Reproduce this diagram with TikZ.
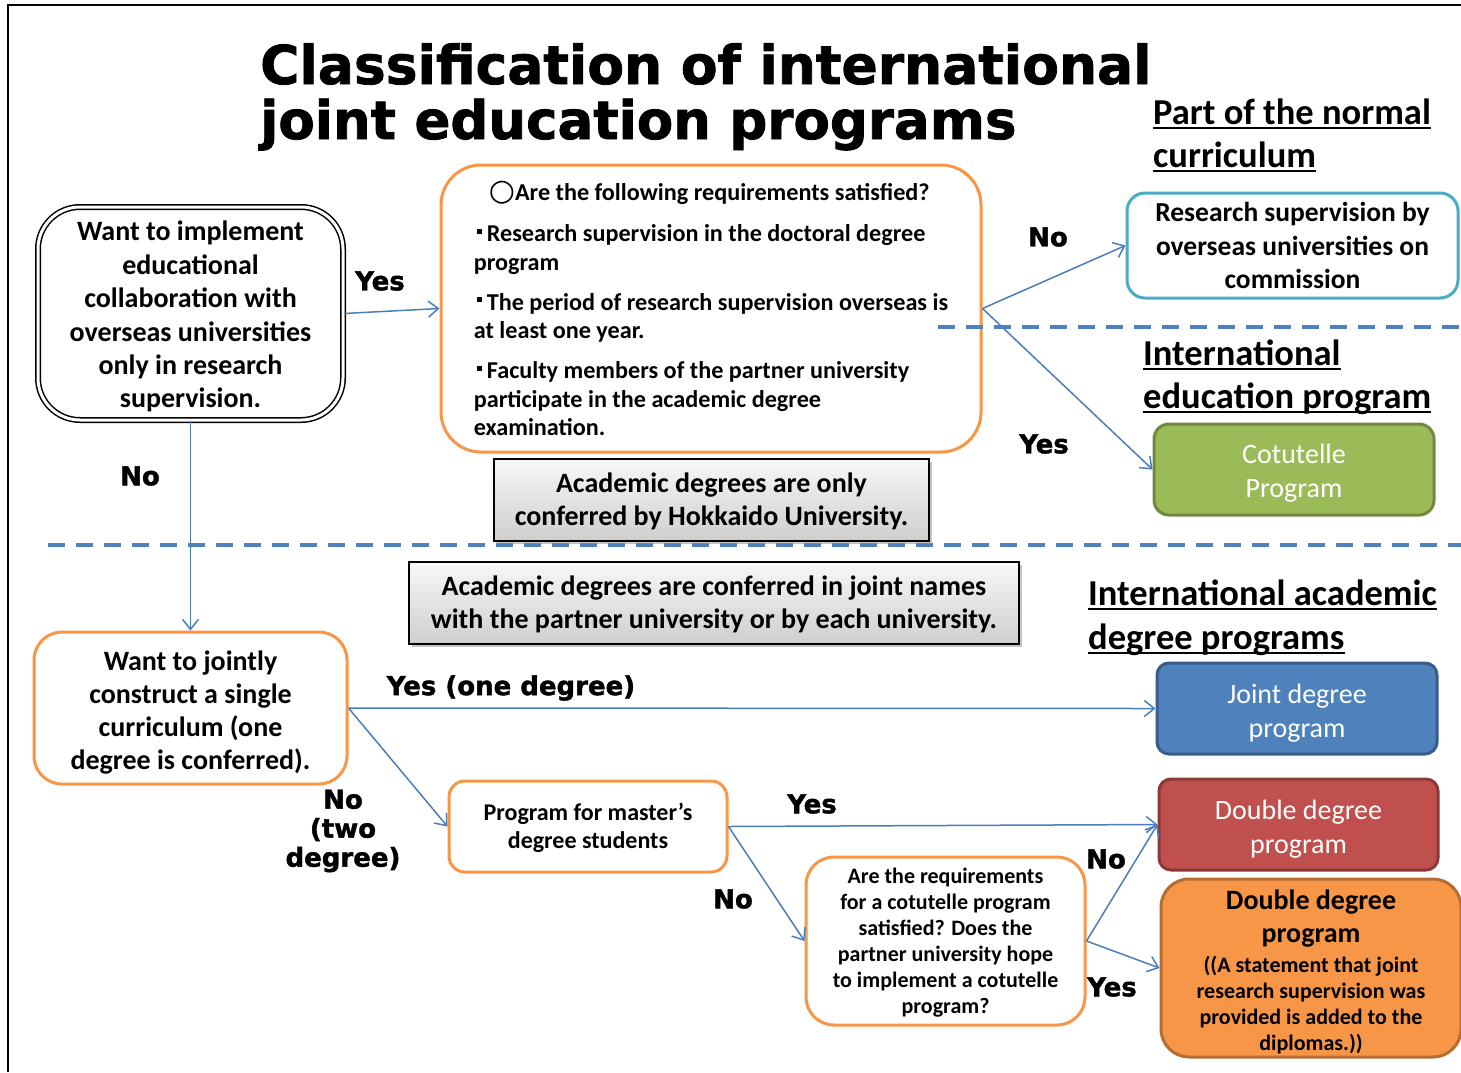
\documentclass[tikz,border=0pt]{standalone}
\usepackage{fontspec}
\setmainfont{Carlito}
\newfontfamily\heavy{DejaVu Sans}[BoldFeatures={FakeBold=1.5}]
\newfontfamily\dejavu{DejaVu Sans}
\usetikzlibrary{arrows.meta,shadows}
\definecolor{arrowblue}{HTML}{4A7EBB}
\definecolor{dashblue}{HTML}{4F81BD}
\definecolor{orangeb}{HTML}{F79646}
\definecolor{cyanb}{HTML}{4BACC6}
\definecolor{greenf}{HTML}{9BBB59}
\definecolor{greend}{HTML}{71893F}
\definecolor{bluef}{HTML}{4F81BD}
\definecolor{blued}{HTML}{385D8A}
\definecolor{redf}{HTML}{C0504D}
\definecolor{redd}{HTML}{8C3836}
\definecolor{orangef}{HTML}{F79646}
\definecolor{oranged}{HTML}{B66D31}
\newcommand{\sqbul}{\hspace*{3pt}\raisebox{8pt}{\rule{5pt}{5pt}}\hspace{5pt}}
\newcommand{\myul}[1]{\setbox0\hbox{#1}\rlap{\rule[-5pt]{\wd0}{2pt}}\box0}
\newcommand{\tall}[1]{\rule{0pt}{#1}}
\begin{document}
\begin{tikzpicture}[x=1pt,y=-1pt,
  obox/.style={draw=orangeb, line width=3pt, fill=white, align=center, inner sep=0pt},
  fbox/.style={line width=3pt, align=center, inner sep=0pt, text=white, rounded corners=12pt,
     font=\fontsize{28}{34}\selectfont},
  graybox/.style={draw=black, line width=1.2pt, top color=gray!6, bottom color=gray!38,
     drop shadow={shadow xshift=3pt, shadow yshift=-3pt, fill=black!45},
     align=center, inner sep=0pt, font=\bfseries\fontsize{28}{33}\selectfont},
  lbl/.style={font=\heavy\bfseries\fontsize{26}{29}\selectfont, align=center, inner sep=0pt},
  conn/.style={draw=arrowblue, line width=1.5pt, -{Straight Barb[length=10pt,width=16pt]}},
  divline/.style={draw=dashblue, line width=3.5pt, dash pattern=on 17pt off 11pt},
  heading/.style={font=\bfseries\fontsize{36.5}{43}\selectfont, anchor=base west, inner sep=0pt},
  titlefont/.style={font=\heavy\bfseries\fontsize{53.5}{55}\selectfont, anchor=base west, inner sep=0pt}
]
\useasboundingbox (0,0) rectangle (1461,1072);
\fill[white] (0,0) rectangle (1461,1072);
% frame
\draw[line width=2pt] (8,1072) -- (8,5) -- (1461,5);

% title
\node[titlefont] (t1) at (260,84) {Classification of international};
\node[titlefont] (t2) at (260,139) {\fontsize{53}{55}\selectfont joint education programs};

% headings
\node[heading] (h1a) at (1153,124) {\myul{Part of the normal}};
\node[heading] (h1b) at (1153,167) {\myul{curriculum}};
\node[heading] (h2a) at (1143,365) {\myul{International}};
\node[heading] (h2b) at (1143,408) {\myul{education program}};
\node[heading] (h3a) at (1088,605) {\myul{International academic}};
\node[heading] (h3b) at (1088,649) {\myul{degree programs}};

% dashed divider (lower)
\draw[divline] (48,545) -- (1461,545);

% boxes
\node[draw=black, line width=1.5pt, double, double distance=3pt, fill=white, rounded corners=42pt,
  minimum width=305pt, minimum height=213pt, align=center, inner sep=0pt,
  font=\bfseries\fontsize{28}{33.4}\selectfont] (A) at (190.5,313.5)
  {\tall{26pt}Want to implement\\educational\\collaboration with\\overseas universities\\only in research\\supervision.};

\node[obox, rounded corners=40pt, minimum width=540pt, minimum height=287pt, align=left,
  font=\bfseries\fontsize{24.2}{28.5}\selectfont] (B) at (711,308.5)
  {\hspace*{15pt}{\dejavu\fontsize{30}{28}\selectfont ○}Are the following requirements satisfied?\\[12.5pt]
   \sqbul Research supervision in the doctoral degree\\
   program\\[11.5pt]
   \sqbul The period of research supervision overseas is\\
   at least one year.\\[11.5pt]
   \sqbul Faculty members of the partner university\\
   participate in the academic degree\\
   examination.};

\draw[divline] (938,327) -- (1461,327);

\node[draw=cyanb, line width=3pt, fill=white, rounded corners=18pt, minimum width=331pt, minimum height=105pt,
  align=center, inner sep=0pt, font=\bfseries\fontsize{27.5}{33.5}\selectfont] (C) at (1292.5,245.5)
  {Research supervision by\\overseas universities on\\commission};

\node[fbox, draw=greend, fill=greenf, minimum width=280pt, minimum height=91pt, rounded corners=15pt] (D) at (1294,469.5)
  {\tall{27pt}Cotutelle\\Program};

\node[graybox, minimum width=435pt, minimum height=82pt] (G1) at (711.5,500)
  {\tall{23pt}Academic degrees are only\\conferred by Hokkaido University.};
\node[graybox, minimum width=610pt, minimum height=82pt] (G2) at (714,603)
  {\tall{23pt}Academic degrees are conferred in joint names\\with the partner university or by each university.};

\node[obox, rounded corners=28pt, minimum width=313pt, minimum height=152pt,
  font=\bfseries\fontsize{28}{33}\selectfont] (E) at (190.5,708)
  {\tall{28pt}Want to jointly\\construct a single\\curriculum (one\\degree is conferred).};

\node[fbox, draw=blued, fill=bluef, minimum width=280pt, minimum height=91pt] (F) at (1297,708.5)
  {\tall{28pt}Joint degree\\program};

\node[obox, rounded corners=16pt, minimum width=278pt, minimum height=91pt,
  font=\bfseries\fontsize{24}{28}\selectfont] (G) at (588,826.5)
  {\tall{21pt}Program for master’s\\degree students};

\node[fbox, draw=redd, fill=redf, minimum width=279pt, minimum height=91pt] (H) at (1298.5,824.5)
  {\tall{28pt}Double degree\\program};

\node[obox, rounded corners=28pt, minimum width=279pt, minimum height=168pt,
  font=\bfseries\fontsize{22}{26}\selectfont] (I) at (945.5,941)
  {\tall{19pt}Are the requirements\\for a cotutelle program\\satisfied? Does the\\partner university hope\\to implement a cotutelle\\program?};

\node[draw=oranged, fill=orangef, line width=3pt, rounded corners=28pt, minimum width=300pt, minimum height=178pt,
  align=center, inner sep=0pt, font=\bfseries\fontsize{22}{26}\selectfont] (J) at (1311,968)
  {\fontsize{28}{33}\selectfont\tall{28pt}Double degree\\[7pt]
   \fontsize{28}{33}\selectfont program\\[4pt]
   ((A statement that joint\\research supervision was\\provided is added to the\\diplomas.))};

% connectors
\draw[conn] (A.east) -- (B.west);
\draw[conn] (A.south) -- (E.north);
\draw[conn] (B.east) -- (C.west);
\draw[conn] (B.east) -- (D.west);
\draw[conn] (E.east) -- (F.west);
\draw[conn] (E.east) -- (G.west);
\draw[conn] (G.east) -- (H.west);
\draw[conn] (G.east) -- (I.west);
\draw[conn] (I.east) -- (H.west);
\draw[conn] (I.east) -- (J.west);

% labels
\node[lbl] (l1) at (380,281) {Yes};
\node[lbl] (l2) at (140,476) {No};
\node[lbl] (l3) at (1048,237) {No};
\node[lbl] (l4) at (1044,444) {Yes};
\node[lbl] (l5) at (511,688) {Yes (one degree)};
\node[lbl] (l6) at (343,831) {No\\(two\\degree)};
\node[lbl] (l7) at (812,804) {Yes};
\node[lbl] (l8) at (733,899) {No};
\node[lbl] (l9) at (1106,859) {No};
\node[lbl] (l10) at (1112,987) {Yes};
\end{tikzpicture}
\end{document}
